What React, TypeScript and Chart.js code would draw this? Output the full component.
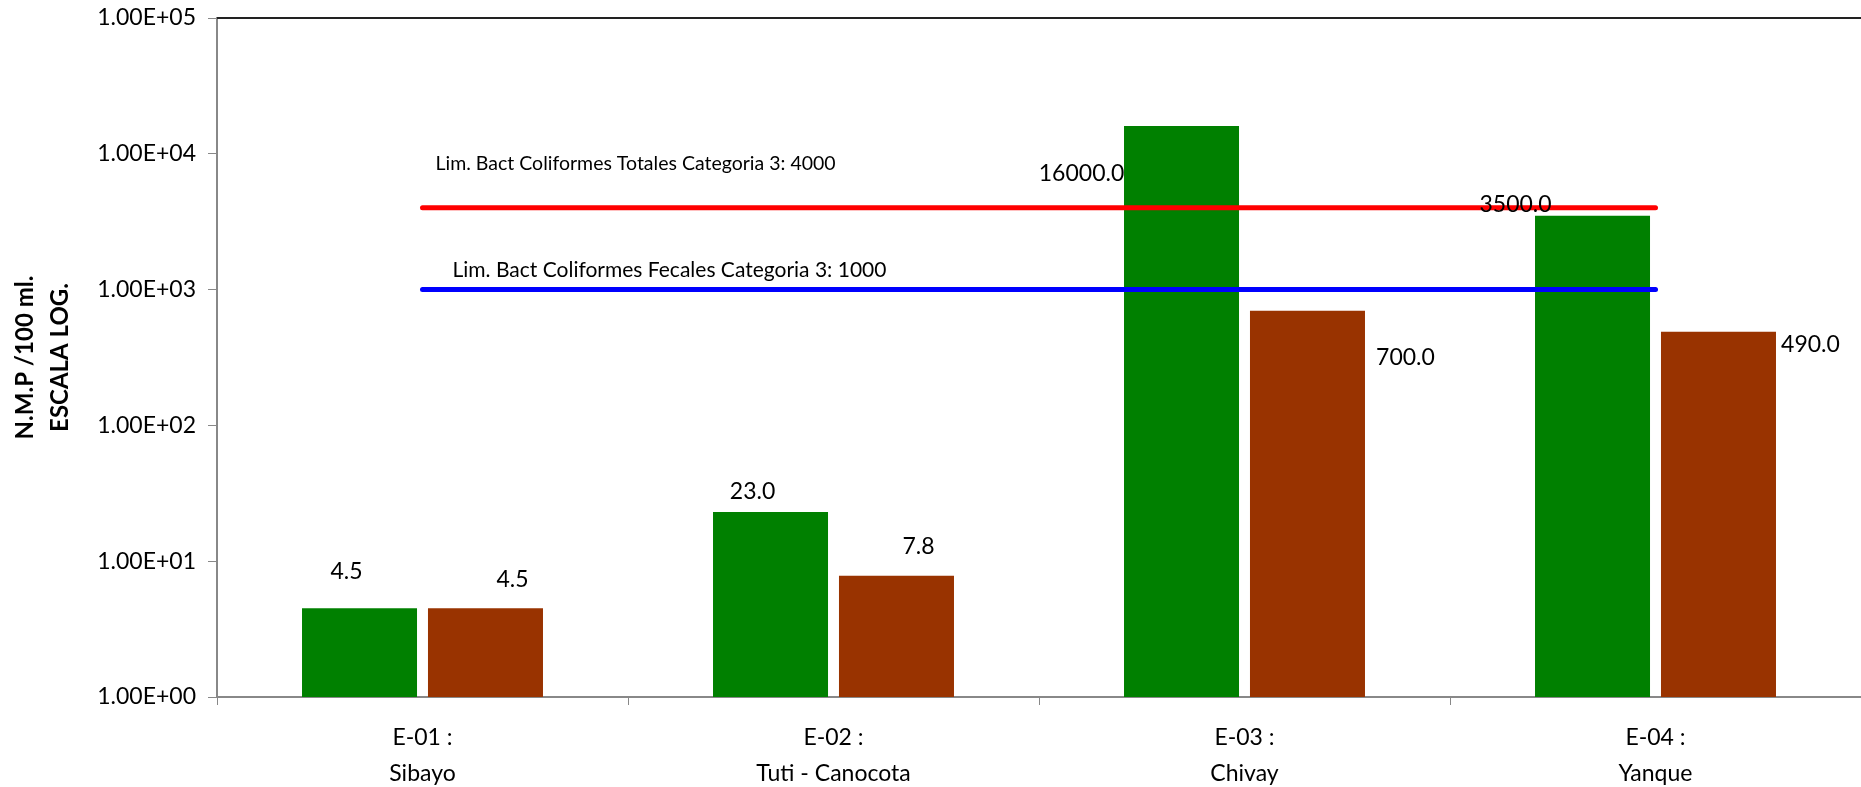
import React, { useEffect, useRef } from 'react';
import { Chart, registerables } from 'chart.js';

Chart.register(...registerables);

// stations sampled (two-line tick labels)
const stations = [
  ['E-01 :', 'Sibayo'],
  ['E-02 :', 'Tuti - Canocota'],
  ['E-03 :', 'Chivay'],
  ['E-04 :', 'Yanque'],
];

// N.M.P / 100 ml
const totalColiforms = [4.5, 23.0, 16000.0, 3500.0];
const fecalColiforms = [4.5, 7.8, 700.0, 490.0];

// category 3 limits
const limitTotal = [4000, 4000, 4000, 4000];
const limitFecal = [1000, 1000, 1000, 1000];
const limitTotalLabel = 'Lim. Bact Coliformes Totales Categoria 3: 4000';
const limitFecalLabel = 'Lim. Bact Coliformes Fecales Categoria 3: 1000';

const yTicks = [1, 10, 100, 1000, 10000, 100000];

// where the value labels sit relative to the top of each bar (as in the original sheet)
const totalLabelOffsets = [[-13, -37], [-18, -20], [-100, 47], [-77, -11]];
const fecalLabelOffsets = [[27, -29], [22, -29], [98, 47], [92, 13]];

const FONT = 'Lato, "Open Sans", sans-serif';

const sciLabel = (v: number) => {
  const exp = Math.round(Math.log10(v));
  return '1.00E+' + String(exp).padStart(2, '0');
};

const labelsPlugin = {
  id: 'valueLabels',
  afterDatasetsDraw(chart: any) {
    const { ctx, chartArea } = chart;
    ctx.save();

    // top border of the plot
    ctx.strokeStyle = '#222';
    ctx.lineWidth = 2;
    ctx.beginPath();
    ctx.moveTo(chartArea.left, chartArea.top);
    ctx.lineTo(chartArea.right, chartArea.top);
    ctx.stroke();

    ctx.fillStyle = '#000';
    ctx.textBaseline = 'middle';

    // bar values
    ctx.font = `23px ${FONT}`;
    ctx.textAlign = 'center';
    [[0, totalLabelOffsets], [1, fecalLabelOffsets]].forEach(([idx, offs]: any) => {
      const meta = chart.getDatasetMeta(idx);
      const values = chart.data.datasets[idx].data;
      meta.data.forEach((bar: any, i: number) => {
        ctx.fillText(values[i].toFixed(1), bar.x + offs[i][0], bar.y + offs[i][1]);
      });
    });

    // limit line labels
    ctx.textAlign = 'left';
    const red = chart.getDatasetMeta(2).data[0];
    const blue = chart.getDatasetMeta(3).data[0];
    ctx.font = `19.5px ${FONT}`;
    ctx.fillText(limitTotalLabel, red.x + 13, red.y - 44);
    ctx.font = `21px ${FONT}`;
    ctx.fillText(limitFecalLabel, blue.x + 30, blue.y - 19);

    ctx.restore();
  },
};

const ColiformChart: React.FC = () => {
  const chartRef = useRef<HTMLCanvasElement | null>(null);
  const chartInstance = useRef<Chart | null>(null);

  useEffect(() => {
    document.body.style.margin = '0';
    if (!chartRef.current) return;
    if (chartInstance.current) chartInstance.current.destroy();

    chartInstance.current = new Chart(chartRef.current, {
      type: 'bar',
      data: {
        labels: stations,
        datasets: [
          {
            label: 'Coliformes Totales',
            data: totalColiforms,
            backgroundColor: '#008000',
            categoryPercentage: 0.613,
            barPercentage: 0.913,
            order: 1,
          },
          {
            label: 'Coliformes Fecales',
            data: fecalColiforms,
            backgroundColor: '#993300',
            categoryPercentage: 0.613,
            barPercentage: 0.913,
            order: 1,
          },
          {
            type: 'line',
            label: limitTotalLabel,
            data: limitTotal,
            borderColor: '#FF0000',
            borderWidth: 5,
            borderCapStyle: 'round',
            pointRadius: 0,
            fill: false,
            order: 0,
          },
          {
            type: 'line',
            label: limitFecalLabel,
            data: limitFecal,
            borderColor: '#0000FF',
            borderWidth: 5,
            borderCapStyle: 'round',
            pointRadius: 0,
            fill: false,
            order: 0,
          },
        ] as any,
      },
      options: {
        responsive: true,
        maintainAspectRatio: false,
        animation: false,
        layout: { padding: { top: 18, right: 0, left: 0, bottom: 0 } },
        plugins: {
          legend: { display: false },
          tooltip: { enabled: false },
        },
        scales: {
          x: {
            grid: {
              offset: true,
              drawOnChartArea: false,
              color: '#888',
              tickLength: 8,
            },
            border: { color: '#888', width: 2 },
            ticks: {
              color: '#000',
              font: { family: FONT, size: 23, lineHeight: 1.55 },
              padding: 15,
              maxRotation: 0,
            },
            afterFit: (s: any) => { s.height = 90; },
          },
          y: {
            type: 'logarithmic',
            min: 1,
            max: 100000,
            afterBuildTicks: (s: any) => { s.ticks = yTicks.map(v => ({ value: v })); },
            grid: {
              drawOnChartArea: false,
              color: '#888',
              tickLength: 9,
            },
            border: { color: '#888', width: 2 },
            ticks: {
              color: '#000',
              font: { family: FONT, size: 23 },
              padding: 12,
              callback: (v: any) => sciLabel(Number(v)),
            },
            title: {
              display: true,
              text: ['N.M.P /100 ml.', 'ESCALA LOG.'],
              color: '#000',
              font: { family: FONT, size: 24, weight: 'bold', lineHeight: 1.45 },
              padding: { top: 8, bottom: 0 },
            },
            afterFit: (s: any) => {
              s.width = 217;
              s.paddingTop = 0;
              s.paddingBottom = 0;
            },
          },
        },
      },
      plugins: [labelsPlugin],
    } as any);

    return () => {
      if (chartInstance.current) {
        chartInstance.current.destroy();
        chartInstance.current = null;
      }
    };
  }, []);

  return (
    <div style={{ width: 1861, height: 787, background: '#fff' }}>
      <canvas ref={chartRef}></canvas>
    </div>
  );
};

export default function App() {
  return <ColiformChart />;
}
